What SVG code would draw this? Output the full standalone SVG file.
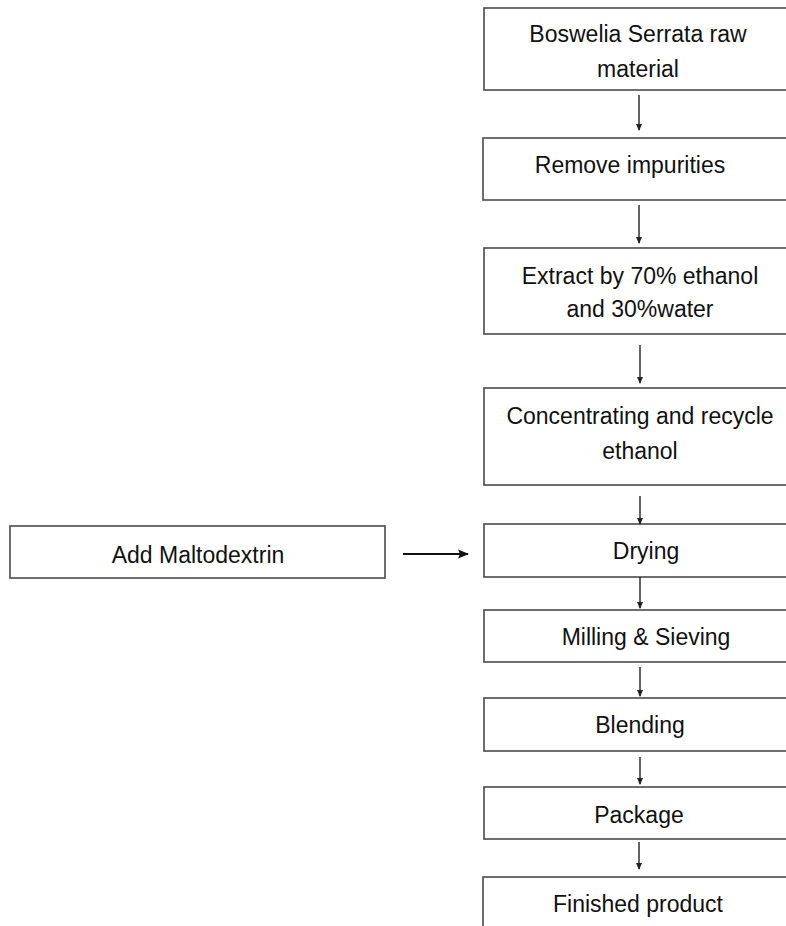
<svg xmlns="http://www.w3.org/2000/svg" width="786" height="926" viewBox="0 0 786 926">
<style>
.box{fill:#fff;stroke:#4a4a4a;stroke-width:1.6}
.t{font-family:"Liberation Sans",Arial,sans-serif;font-size:23px;fill:#111;text-anchor:middle}
.c{stroke:#222;stroke-width:1.4;fill:none;marker-end:url(#ah)}
.h{stroke:#111;stroke-width:2;fill:none;marker-end:url(#ah2)}
</style>
<defs>
<marker id="ah" markerWidth="8" markerHeight="8" refX="6" refY="4" orient="auto" markerUnits="userSpaceOnUse">
<path d="M0,1 L7,4 L0,7 Z" fill="#222"/>
</marker>
<marker id="ah2" markerWidth="12" markerHeight="10" refX="10" refY="5" orient="auto" markerUnits="userSpaceOnUse">
<path d="M0,0.5 L11,5 L0,9.5 L2,5 Z" fill="#111"/>
</marker>
</defs>
<rect width="786" height="926" fill="#fff"/>
<g id="n1"><rect class="box" x="484" y="8" width="320" height="82"/><text class="t" x="638" y="42">Boswelia Serrata raw</text><text class="t" x="638" y="77">material</text></g>
<g id="n2"><rect class="box" x="483" y="138" width="320" height="62"/><text class="t" x="630" y="173">Remove impurities</text></g>
<g id="n3"><rect class="box" x="484" y="248" width="320" height="86"/><text class="t" x="640" y="284">Extract by 70% ethanol</text><text class="t" x="640" y="317">and 30%water</text></g>
<g id="n4"><rect class="box" x="484" y="388" width="320" height="97"/><text class="t" x="640" y="424">Concentrating and recycle</text><text class="t" x="640" y="459">ethanol</text></g>
<g id="n5"><rect class="box" x="484" y="524" width="320" height="53"/><text class="t" x="646" y="559">Drying</text></g>
<g id="n6"><rect class="box" x="484" y="610" width="320" height="52"/><text class="t" x="646" y="645">Milling &amp; Sieving</text></g>
<g id="n7"><rect class="box" x="484" y="698" width="320" height="53"/><text class="t" x="640" y="733">Blending</text></g>
<g id="n8"><rect class="box" x="484" y="787" width="320" height="52"/><text class="t" x="639" y="823">Package</text></g>
<g id="n9"><rect class="box" x="483" y="877" width="320" height="70"/><text class="t" x="638" y="912">Finished product</text></g>
<g id="n10"><rect class="box" x="10" y="526" width="375" height="52"/><text class="t" x="198" y="563">Add Maltodextrin</text></g>
<g id="connectors">
<line class="c" x1="639" y1="95" x2="639" y2="130"/>
<line class="c" x1="639" y1="205" x2="639" y2="243"/>
<line class="c" x1="640" y1="345" x2="640" y2="383"/>
<line class="c" x1="640" y1="496" x2="640" y2="524"/>
<line class="c" x1="640" y1="577" x2="640" y2="608"/>
<line class="c" x1="640" y1="667" x2="640" y2="696"/>
<line class="c" x1="640" y1="757" x2="640" y2="784"/>
<line class="c" x1="639" y1="842" x2="639" y2="869"/>
<line class="h" x1="403" y1="554" x2="468" y2="554"/>
</g>
</svg>
